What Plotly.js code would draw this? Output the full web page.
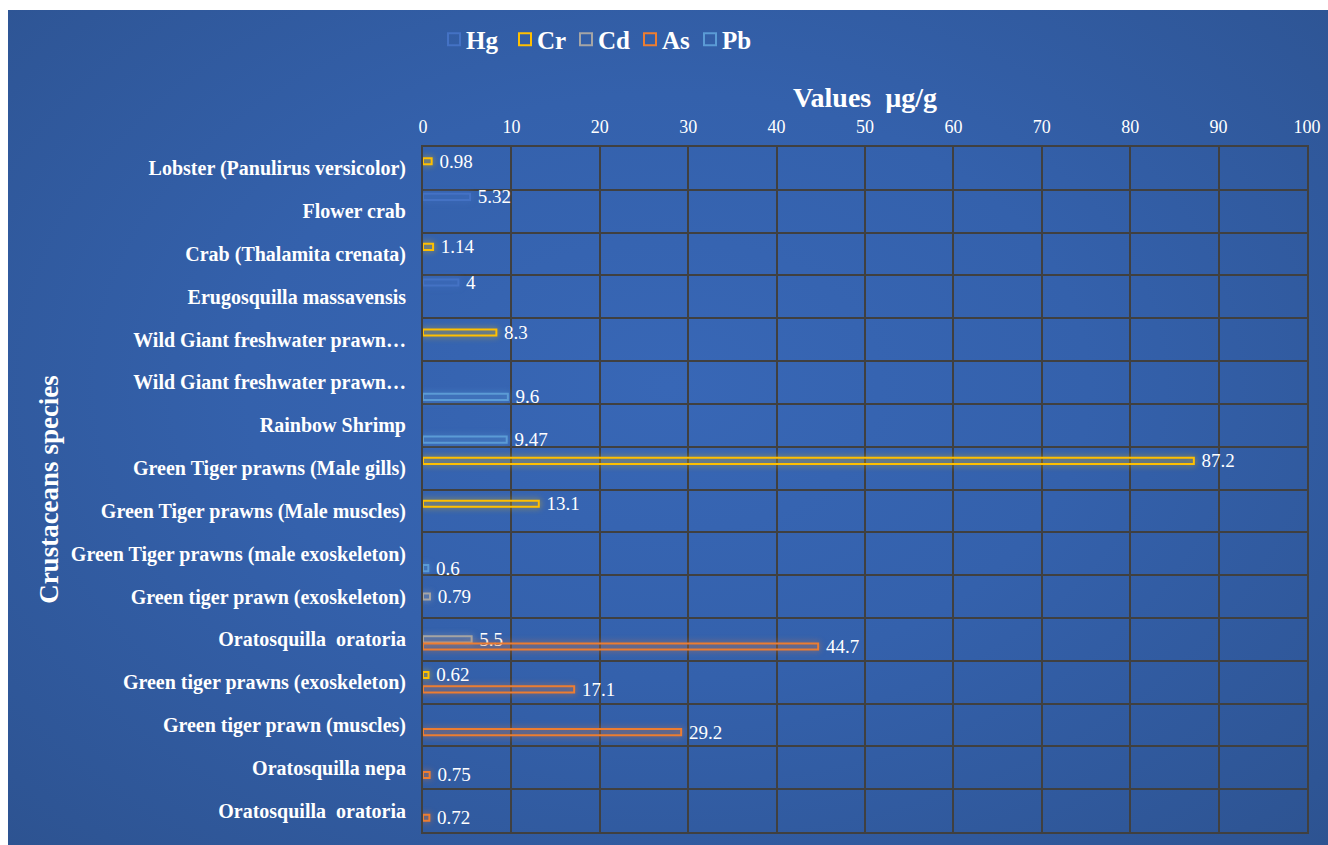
<!DOCTYPE html>
<html>
<head>
<meta charset="utf-8">
<script src="https://cdn.plot.ly/plotly-3.0.1.min.js"></script>
<style>
  html, body { margin: 0; padding: 0; background: #ffffff; width: 1328px; height: 845px; overflow: hidden; }
  #wrap { position: absolute; left: 8px; top: 10px; width: 1320px; height: 835px;
          background: radial-gradient(ellipse at 50% 45%, #3867b6 0%, #3461ac 45%, #2d5391 100%); }
  #chart { width: 1320px; height: 835px; }
  .legend .traces .legendsymbols { transform: translate(8px, 0px); }
  .trace.bars:nth-of-type(1) path { filter: drop-shadow(0 0 3px rgba(68,114,196,0.9)); }
  .trace.bars:nth-of-type(2) path { filter: drop-shadow(0 0 3px rgba(255,192,0,0.75)); }
  .trace.bars:nth-of-type(3) path { filter: drop-shadow(0 0 3px rgba(165,165,165,0.75)); }
  .trace.bars:nth-of-type(4) path { filter: drop-shadow(0 0 3px rgba(237,125,49,0.75)); }
  .trace.bars:nth-of-type(5) path { filter: drop-shadow(0 0 3px rgba(91,155,213,0.75)); }
</style>
</head>
<body>
<div id="wrap"><div id="chart"></div></div>
<script>
// Categories, top to bottom
const categories = [
  "Lobster (Panulirus versicolor)",
  "Flower crab",
  "Crab (Thalamita crenata)",
  "Erugosquilla massavensis",
  "Wild Giant freshwater prawn…",
  "Wild Giant freshwater prawn…",
  "Rainbow Shrimp",
  "Green Tiger prawns (Male gills)",
  "Green Tiger prawns (Male muscles)",
  "Green Tiger prawns (male exoskeleton)",
  "Green tiger prawn (exoskeleton)",
  "Oratosquilla  oratoria",
  "Green tiger prawns (exoskeleton)",
  "Green tiger prawn (muscles)",
  "Oratosquilla nepa",
  "Oratosquilla  oratoria"
];

const seriesNames = ["Hg", "Cr", "Cd", "As", "Pb"];

const Hg = [null, 5.32, null, 4, null, null, null, null, null, null, null, null, null, null, null, null];
const Cr = [0.98, null, 1.14, null, 8.3, null, null, 87.2, 13.1, null, null, null, 0.62, null, null, null];
const Cd = [null, null, null, null, null, null, null, null, null, null, 0.79, 5.5, null, null, null, null];
const As = [null, null, null, null, null, null, null, null, null, null, null, 44.7, 17.1, 29.2, 0.75, 0.72];
const Pb = [null, null, null, null, null, 9.6, 9.47, null, null, 0.6, null, null, null, null, null, null];

const xTicks = [0, 10, 20, 30, 40, 50, 60, 70, 80, 90, 100];

const seriesValues = [Hg, Cr, Cd, As, Pb];
const seriesColors = ["#4472C4", "#FFC000", "#A5A5A5", "#ED7D31", "#5B9BD5"];
const legendWidths = [26, 16, 19, 15, 45];

const idx = categories.map((_, i) => i);
const gridLineColor = "#404040";
const serif = "Liberation Serif, Times New Roman, serif";

const traces = seriesNames.map((name, s) => ({
  type: "bar",
  orientation: "h",
  name: name,
  y: idx,
  x: seriesValues[s],
  legendwidth: legendWidths[s],
  marker: { color: "rgba(0,0,0,0)", line: { color: seriesColors[s], width: 2 } },
  text: seriesValues[s].map(v => v === null ? "" : "\u00a0" + String(v)),
  textposition: "outside",
  constraintext: "none",
  cliponaxis: false,
  textfont: { family: serif, size: 19, color: "#ffffff" },
  hoverinfo: "x+name"
}));

const layout = {
  width: 1320,
  height: 835,
  paper_bgcolor: "rgba(0,0,0,0)",
  plot_bgcolor: "rgba(0,0,0,0)",
  margin: { l: 415, r: 21, t: 137, b: 13, autoexpand: false },
  barmode: "group",
  bargap: 0.16,
  bargroupgap: 0.15,
  font: { family: serif, color: "#ffffff" },
  showlegend: true,
  legend: {
    orientation: "h",
    x: 0.0034, xanchor: "left",
    y: 1.157, yanchor: "middle",
    entrywidthmode: "pixels",
    font: { family: serif, size: 25, color: "#ffffff", weight: "bold" },
    bgcolor: "rgba(0,0,0,0)",
    itemclick: false,
    traceorder: "normal"
  },
  xaxis: {
    side: "top",
    automargin: false,
    range: [0, 100],
    tickmode: "array",
    tickvals: xTicks,
    ticktext: xTicks.map(String),
    tickfont: { family: serif, size: 18, color: "#ffffff" },
    ticks: "",
    ticklabelstandoff: 5,
    showgrid: true,
    gridcolor: gridLineColor,
    gridwidth: 2,
    zeroline: false,
    showline: true,
    linecolor: gridLineColor,
    linewidth: 2,
    mirror: true,
    fixedrange: true,
    title: { text: "Values  µg/g", font: { family: serif, size: 28, color: "#ffffff", weight: "bold" }, standoff: 1 }
  },
  yaxis: {
    automargin: false,
    autorange: false,
    range: [categories.length - 0.5, -0.5],
    tickmode: "array",
    tickvals: idx,
    ticktext: categories,
    tickfont: { family: serif, size: 20, color: "#ffffff", weight: "bold" },
    ticks: "",
    ticklabelstandoff: 11,
    showgrid: false,
    zeroline: false,
    showline: true,
    linecolor: gridLineColor,
    linewidth: 2,
    mirror: true,
    fixedrange: true,
    minor: {
      tickmode: "array",
      tickvals: idx.map(i => i - 0.5).concat([categories.length - 0.5]),
      showgrid: true,
      gridcolor: gridLineColor,
      gridwidth: 2,
      ticks: ""
    },
    title: { text: "Crustaceans species", font: { family: serif, size: 27, color: "#ffffff", weight: "bold" }, standoff: 4 }
  }
};

Plotly.newPlot("chart", traces, layout, { displayModeBar: false, staticPlot: false });
</script>
</body>
</html>
